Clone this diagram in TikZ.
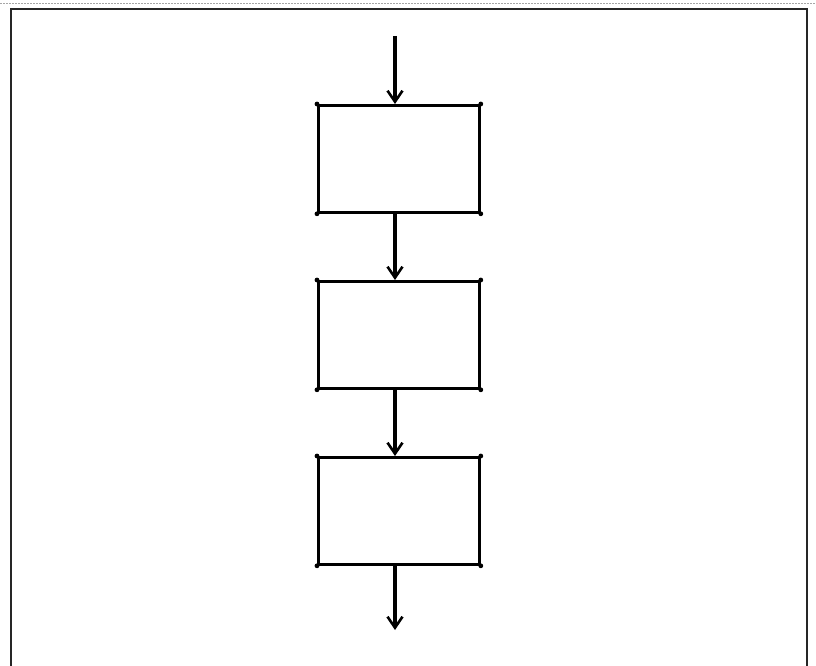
\documentclass[tikz,border=0pt]{standalone}
\usetikzlibrary{arrows.meta}
\begin{document}
\begin{tikzpicture}[x=1pt,y=-1pt,
  stepbox/.style={draw=black,line width=2.8pt,minimum width=161pt,minimum height=107pt,inner sep=0pt,anchor=north west},
  flow/.style={line width=3.4pt,-{Straight Barb[length=11pt,width=15pt,line width=2.6pt]}},
  corner/.style={fill=black,circle,inner sep=0pt,minimum size=4.8pt}]
  \useasboundingbox (0,0) rectangle (816,666);
  \fill[white] (0,0) rectangle (816,666);
  % page frame
  \draw[gray!70,line width=1pt,dash pattern=on 2pt off 1pt] (0,4) -- (816,4);
  \draw[black!85,line width=1.8pt] (11,668) -- (11,9) -- (807,9) -- (807,668);
  % process boxes
  \node[stepbox] (b1) at (317,104) {};
  \node[stepbox] (b2) at (317,280) {};
  \node[stepbox] (b3) at (317,456) {};
  \foreach \b in {b1,b2,b3}{
    \foreach \a in {north west,north east,south west,south east}
      \node[corner] at (\b.\a) {};
  }
  % flow line runs slightly left of the box centres
  \coordinate (in) at (395,36);
  \coordinate (out) at (395,630);
  \draw[flow] (in) -- (b1.north -| in);
  \draw[flow] (b1.south -| in) -- (b2.north -| in);
  \draw[flow] (b2.south -| in) -- (b3.north -| in);
  \draw[flow] (b3.south -| in) -- (out);
\end{tikzpicture}
\end{document}
